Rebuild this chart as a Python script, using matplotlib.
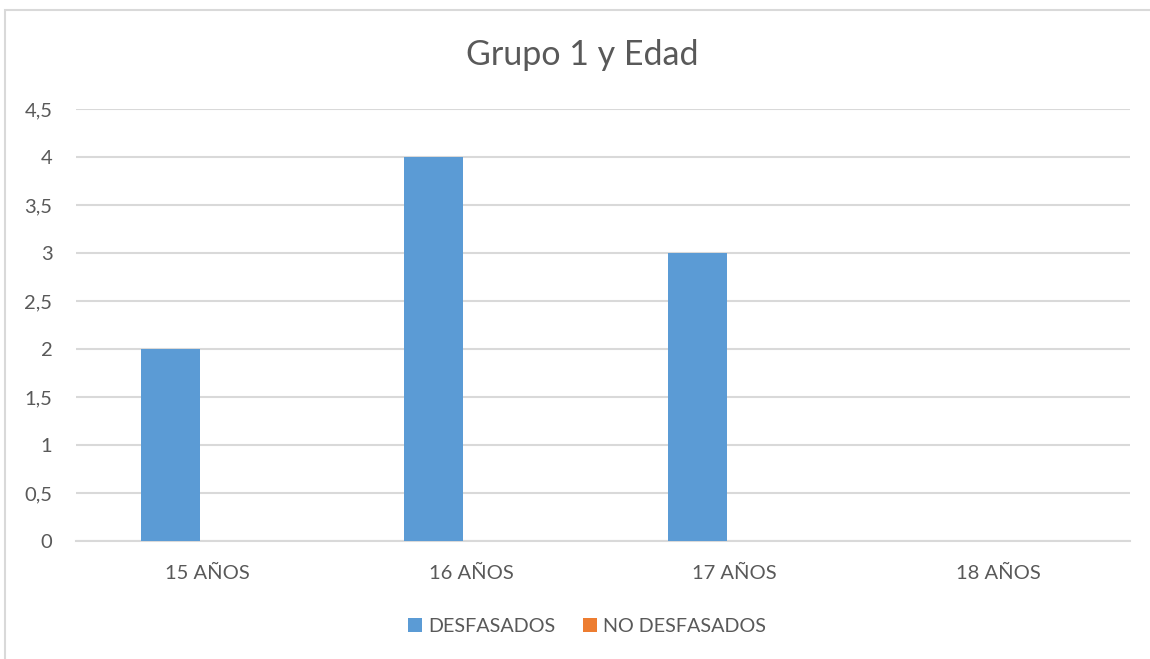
import matplotlib.pyplot as plt
import numpy as np
from matplotlib.patches import Rectangle

categories = ['15 AÑOS', '16 AÑOS', '17 AÑOS', '18 AÑOS']
desfasados = [2, 4, 3, 0]
no_desfasados = [0, 0, 0, 0]
yticks = [0, 0.5, 1, 1.5, 2, 2.5, 3, 3.5, 4, 4.5]

plt.rcParams['font.family'] = ['Lato', 'DejaVu Sans']
text_color = '#595959'
grid_color = '#D9D9D9'

fig = plt.figure(figsize=(11.5, 6.59), dpi=100)
ax = fig.add_axes([76 / 1150, 118 / 659, 1054 / 1150, 432 / 659])

x = np.arange(len(categories))
w = 0.224
off = 0.1425
b1 = ax.bar(x - off, desfasados, w, color='#5B9BD5', label='DESFASADOS', zorder=3)
b2 = ax.bar(x + off, no_desfasados, w, color='#ED7D31', label='NO DESFASADOS', zorder=3)

ax.set_xlim(-0.5, len(categories) - 0.5)
ax.set_ylim(0, 4.5)
ax.set_yticks(yticks)
ax.set_yticklabels([('%g' % v).replace('.', ',') for v in yticks])
ax.set_xticks(x)
ax.set_xticklabels(categories)

ax.grid(axis='y', color=grid_color, linewidth=1.5, zorder=0)
for s in ['top', 'right', 'left']:
    ax.spines[s].set_visible(False)
ax.spines['bottom'].set_color(grid_color)
ax.spines['bottom'].set_linewidth(1.5)
ax.tick_params(length=0, labelsize=14.5, colors=text_color)
ax.tick_params(axis='x', pad=17)
ax.tick_params(axis='y', pad=17)

fig.text(582 / 1150, 1 - 55 / 659, 'Grupo 1 y Edad', ha='center', va='center',
         fontsize=24.5, color=text_color)

fig.legend(handles=[b1, b2], loc='center', bbox_to_anchor=(587 / 1150, 1 - 626 / 659),
           ncol=2, frameon=False, fontsize=14.2, labelcolor=text_color,
           handlelength=0.7, handleheight=0.7, handletextpad=0.3, columnspacing=1.4)

# light border of the chart area (cropped at right and bottom)
fig.patches.append(Rectangle((5 / 1150, -0.1), 1.2, 1 - 10 / 659 + 0.1,
                             transform=fig.transFigure, fill=False,
                             edgecolor=grid_color, linewidth=1.5))

plt.savefig('out.png', dpi=100)
